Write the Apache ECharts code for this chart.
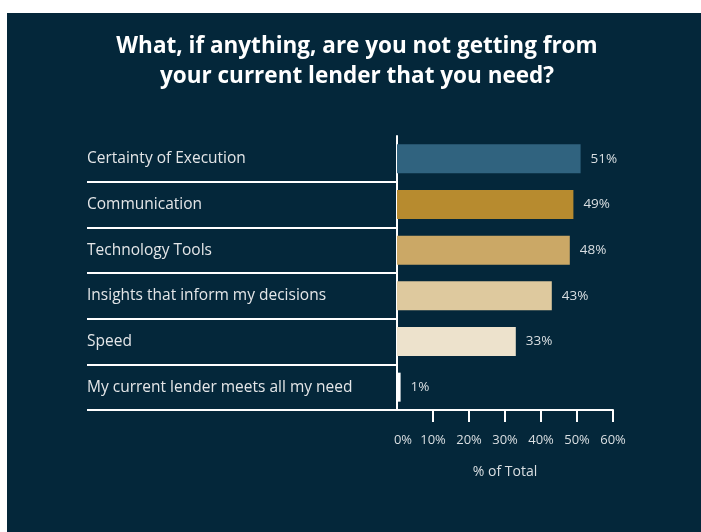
<!DOCTYPE html>
<html>
<head>
<meta charset="utf-8">
<script src="https://cdn.jsdelivr.net/npm/echarts@6/dist/echarts.min.js"></script>
<style>
  html, body { margin: 0; padding: 0; background: #ffffff; }
  #chart { position: absolute; left: 7px; top: 13px; width: 694px; height: 519px; }
</style>
</head>
<body>
<div id="chart"></div>
<script>
// Survey answers and their shares (% of total)
const categories = [
  'Certainty of Execution',
  'Communication',
  'Technology Tools',
  'Insights that inform my decisions',
  'Speed',
  'My current lender meets all my need'
];
const shares = [51, 49, 48, 43, 33, 1];
const tickValues = [0, 10, 20, 30, 40, 50, 60];

const barColors = ['#30637F', '#B78B2F', '#CBA866', '#DEC99E', '#EDE2CC', '#FFFFFF'];
const FONT = '"Open Sans", sans-serif';
const TEXT = '#DADFE2';

const chart = echarts.init(document.getElementById('chart'));

chart.setOption({
  backgroundColor: '#04273A',
  animation: false,
  title: {
    text: 'What, if anything, are you not getting from\nyour current lender that you need?',
    left: 345,
    top: 14,
    textAlign: 'center',
    textStyle: {
      color: '#FFFFFF',
      fontFamily: FONT,
      fontWeight: 'bold',
      fontSize: 22.5,
      lineHeight: 30
    }
  },
  grid: [
    // label table on the left
    { left: 80, width: 310, top: 123, height: 274 },
    // bars on the right
    { left: 390, width: 216, top: 123, height: 274 }
  ],
  xAxis: [
    { gridIndex: 0, type: 'value', show: false, min: 0, max: 1 },
    {
      gridIndex: 1,
      type: 'value',
      min: 0,
      max: 60,
      interval: 10,
      name: '% of Total',
      nameLocation: 'middle',
      nameGap: 55,
      nameTextStyle: { color: TEXT, fontFamily: FONT, fontSize: 14 },
      axisLine: { show: true, lineStyle: { color: '#FFFFFF', width: 2 } },
      axisTick: {
        show: true,
        length: 12,
        customValues: tickValues.slice(1),
        lineStyle: { color: '#FFFFFF', width: 2 }
      },
      splitLine: { show: false },
      axisLabel: {
        customValues: tickValues,
        margin: 24,
        color: TEXT,
        fontFamily: FONT,
        fontSize: 13,
        formatter: function (v) {
          return v === 0 ? '{first|0%}' : v + '%';
        },
        rich: {
          first: { padding: [0, 0, 0, 12], color: TEXT, fontFamily: FONT, fontSize: 13 }
        }
      }
    }
  ],
  yAxis: [
    {
      gridIndex: 0,
      type: 'category',
      inverse: true,
      data: categories,
      axisLine: { show: false },
      axisTick: { show: false },
      axisLabel: {
        inside: true,
        margin: 0,
        align: 'left',
        color: '#E4E6E8',
        fontFamily: FONT,
        fontSize: 15.5
      },
      splitLine: {
        show: true,
        interval: function (index) { return index !== 0; },
        lineStyle: { color: '#FFFFFF', width: 2 }
      }
    },
    {
      gridIndex: 1,
      type: 'category',
      inverse: true,
      data: categories,
      axisLine: { show: true, lineStyle: { color: '#FFFFFF', width: 2 } },
      axisTick: { show: false },
      axisLabel: { show: false },
      splitLine: { show: false }
    }
  ],
  series: [
    {
      type: 'bar',
      xAxisIndex: 1,
      yAxisIndex: 1,
      barWidth: 29,
      data: shares.map(function (v, i) {
        return { value: v, itemStyle: { color: barColors[i] } };
      }),
      label: {
        show: true,
        position: 'right',
        distance: 10,
        formatter: '{c}%',
        color: TEXT,
        fontFamily: FONT,
        fontSize: 13.5
      }
    }
  ]
});
</script>
</body>
</html>
